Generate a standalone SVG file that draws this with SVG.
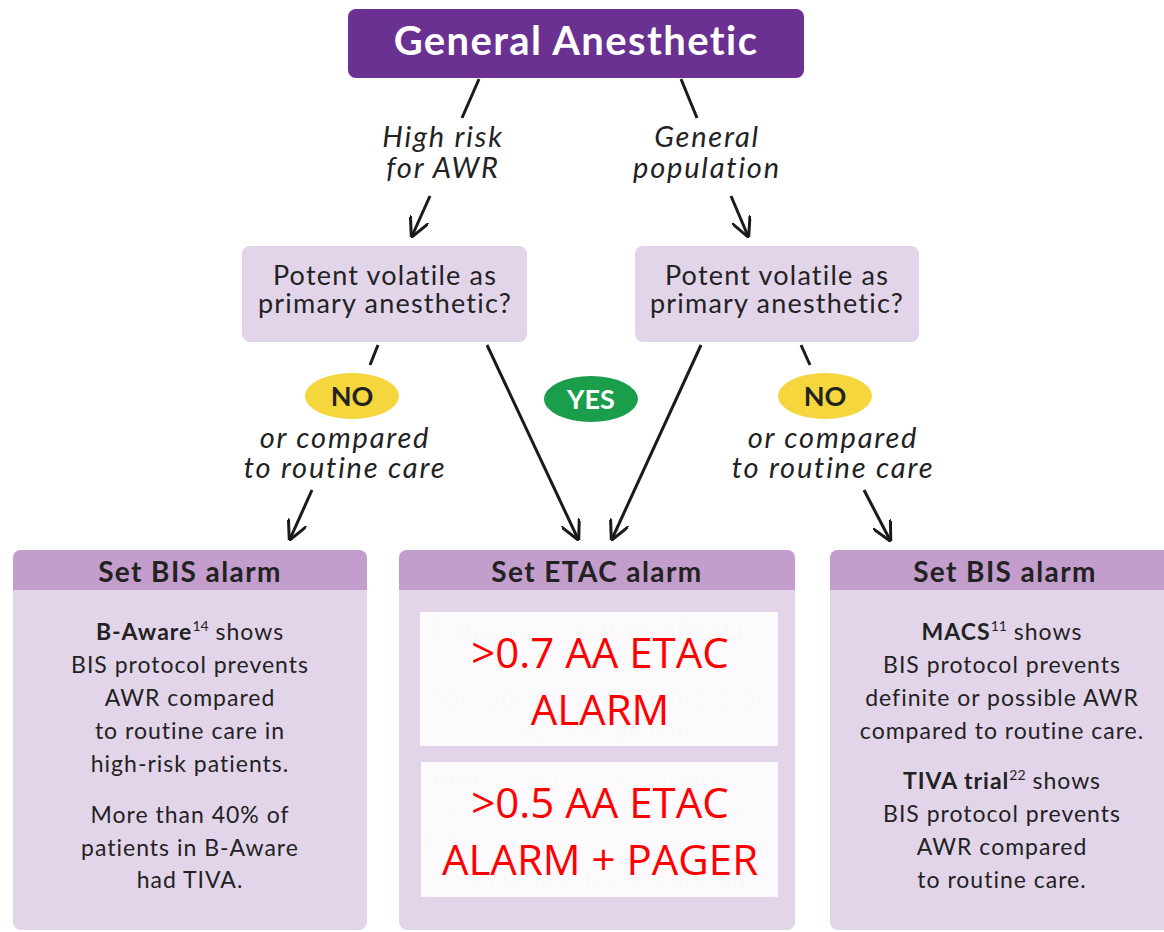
<svg xmlns="http://www.w3.org/2000/svg" width="1164" height="932" viewBox="0 0 1164 932">
<defs>
<marker id="arr" viewBox="0 0 12 12" refX="11" refY="6" markerWidth="20" markerHeight="20" markerUnits="userSpaceOnUse" orient="auto">
<path d="M0,0 L12,6 L0,12" fill="none" stroke="#1a1a1a" stroke-width="1.8"/>
</marker>
</defs>
<style>
text{font-family:Lato,"Noto Sans",sans-serif;text-anchor:middle;}
.lbl{font-style:italic;font-size:29px;letter-spacing:1.8px;fill:#222;}
.q{font-size:27px;letter-spacing:1.2px;fill:#222;}
.hdr{font-size:28px;font-weight:bold;letter-spacing:1.4px;fill:#222;}
.body{font-size:23px;letter-spacing:1px;fill:#222;}
.faint{font-size:23px;letter-spacing:1px;fill:#c8c8c8;}
.red{font-family:"Open Sans","Noto Sans",sans-serif;font-size:42px;letter-spacing:0;fill:#ff0000;}
.ln{stroke:#1a1a1a;stroke-width:3;fill:none;}
.card{fill:#e2d5ea;}
.band{fill:#c39dcc;}
.sup{font-size:14px;letter-spacing:0;}
</style>
<rect width="1164" height="932" fill="#ffffff"/>

<g id="connectors">
<line class="ln" x1="479" y1="79" x2="462" y2="118"/>
<line class="ln" x1="681" y1="79" x2="697" y2="118"/>
<line class="ln" x1="430" y1="196" x2="412" y2="236" marker-end="url(#arr)"/>
<line class="ln" x1="731" y1="196" x2="748" y2="236" marker-end="url(#arr)"/>
<line class="ln" x1="378" y1="345" x2="370" y2="365"/>
<line class="ln" x1="801" y1="345" x2="810" y2="365"/>
<line class="ln" x1="312" y1="490" x2="290" y2="539" marker-end="url(#arr)"/>
<line class="ln" x1="864" y1="490" x2="890" y2="540" marker-end="url(#arr)"/>
<line class="ln" x1="487" y1="345" x2="578" y2="539" marker-end="url(#arr)"/>
<line class="ln" x1="701" y1="345" x2="612" y2="539" marker-end="url(#arr)"/>
</g>

<g id="n-general">
<rect x="348" y="9" width="456" height="69" rx="8" fill="#6a3192"/>
<text x="576" y="55" font-size="40" font-weight="bold" letter-spacing="1.4" fill="#ffffff">General Anesthetic</text>
</g>

<g id="l-highrisk">
<text class="lbl" x="443" y="147">High risk</text>
<text class="lbl" x="443" y="178">for AWR</text>
</g>
<g id="l-general">
<text class="lbl" x="707" y="147">General</text>
<text class="lbl" x="707" y="178">population</text>
</g>

<g id="n-q-left">
<rect class="card" x="242" y="246" width="285" height="96" rx="8"/>
<text class="q" x="385" y="285">Potent volatile as</text>
<text class="q" x="385" y="313">primary anesthetic?</text>
</g>
<g id="n-q-right">
<rect class="card" x="635" y="246" width="284" height="96" rx="8"/>
<text class="q" x="777" y="285">Potent volatile as</text>
<text class="q" x="777" y="313">primary anesthetic?</text>
</g>

<g id="b-no-left">
<ellipse cx="352" cy="396" rx="47" ry="23" fill="#f5d63d"/>
<text x="352" y="406" font-size="27" font-weight="bold" fill="#222">NO</text>
<text class="lbl" x="345" y="448">or compared</text>
<text class="lbl" x="345" y="478">to routine care</text>
</g>
<g id="b-yes">
<ellipse cx="591" cy="399" rx="47" ry="23" fill="#1b9e4b"/>
<text x="591" y="409" font-size="27" font-weight="bold" fill="#ffffff">YES</text>
</g>
<g id="b-no-right">
<ellipse cx="825" cy="396" rx="47" ry="23" fill="#f5d63d"/>
<text x="825" y="406" font-size="27" font-weight="bold" fill="#222">NO</text>
<text class="lbl" x="833" y="448">or compared</text>
<text class="lbl" x="833" y="478">to routine care</text>
</g>

<g id="n-bis-left">
<rect class="card" x="13" y="550" width="354" height="380" rx="8"/>
<path class="band" d="M13,590 V558 a8,8 0 0 1 8,-8 H359 a8,8 0 0 1 8,8 V590 Z"/>
<text class="hdr" x="190" y="582">Set BIS alarm</text>
<text class="body" x="190" y="640"><tspan font-weight="bold">B-Aware</tspan><tspan class="sup" dy="-9">14</tspan><tspan dy="9"> shows</tspan></text>
<text class="body" x="190" y="673">BIS protocol prevents</text>
<text class="body" x="190" y="706">AWR compared</text>
<text class="body" x="190" y="739">to routine care in</text>
<text class="body" x="190" y="772">high-risk patients.</text>
<text class="body" x="190" y="823">More than 40% of</text>
<text class="body" x="190" y="856">patients in B-Aware</text>
<text class="body" x="190" y="888">had TIVA.</text>
</g>

<g id="n-etac">
<rect class="card" x="399" y="550" width="396" height="380" rx="8"/>
<path class="band" d="M399,590 V558 a8,8 0 0 1 8,-8 H787 a8,8 0 0 1 8,8 V590 Z"/>
<text class="hdr" x="597" y="582">Set ETAC alarm</text>
<text class="faint" x="597" y="640"><tspan font-weight="bold">B-Unaware</tspan><tspan class="sup" dy="-9">17</tspan><tspan dy="9" font-weight="bold"> &amp; BAG-RECALL</tspan><tspan class="sup" dy="-9">20</tspan></text>
<text class="faint" x="597" y="673">show BIS protocol</text>
<text class="faint" x="597" y="706">not superior to ETAC protocol</text>
<text class="faint" x="597" y="739">in high-risk patients.</text>
<text class="faint" x="597" y="789"><tspan font-weight="bold">MACS</tspan><tspan class="sup" dy="-9">11</tspan><tspan dy="9"> detects no difference</tspan></text>
<text class="faint" x="597" y="822">between protocol based on</text>
<text class="faint" x="597" y="855">BIS or anesthetic concentration</text>
<text class="faint" x="597" y="888">in an unselected population.</text>
<rect x="420" y="612" width="358" height="134" fill="#ffffff" fill-opacity="0.88"/>
<rect x="421" y="762" width="357" height="135" fill="#ffffff" fill-opacity="0.88"/>
<text class="red" x="600" y="668">&gt;0.7 AA ETAC</text>
<text class="red" x="600" y="725">ALARM</text>
<text class="red" x="600" y="818">&gt;0.5 AA ETAC</text>
<text class="red" x="600" y="875">ALARM + PAGER</text>
</g>

<g id="n-bis-right">
<rect class="card" x="830" y="550" width="342" height="380" rx="8"/>
<path class="band" d="M830,590 V558 a8,8 0 0 1 8,-8 H1172 V590 Z"/>
<text class="hdr" x="1005" y="582">Set BIS alarm</text>
<text class="body" x="1002" y="640"><tspan font-weight="bold">MACS</tspan><tspan class="sup" dy="-9">11</tspan><tspan dy="9"> shows</tspan></text>
<text class="body" x="1002" y="673">BIS protocol prevents</text>
<text class="body" x="1002" y="706">definite or possible AWR</text>
<text class="body" x="1002" y="739">compared to routine care.</text>
<text class="body" x="1002" y="789"><tspan font-weight="bold">TIVA trial</tspan><tspan class="sup" dy="-9">22</tspan><tspan dy="9"> shows</tspan></text>
<text class="body" x="1002" y="822">BIS protocol prevents</text>
<text class="body" x="1002" y="855">AWR compared</text>
<text class="body" x="1002" y="888">to routine care.</text>
</g>
</svg>
